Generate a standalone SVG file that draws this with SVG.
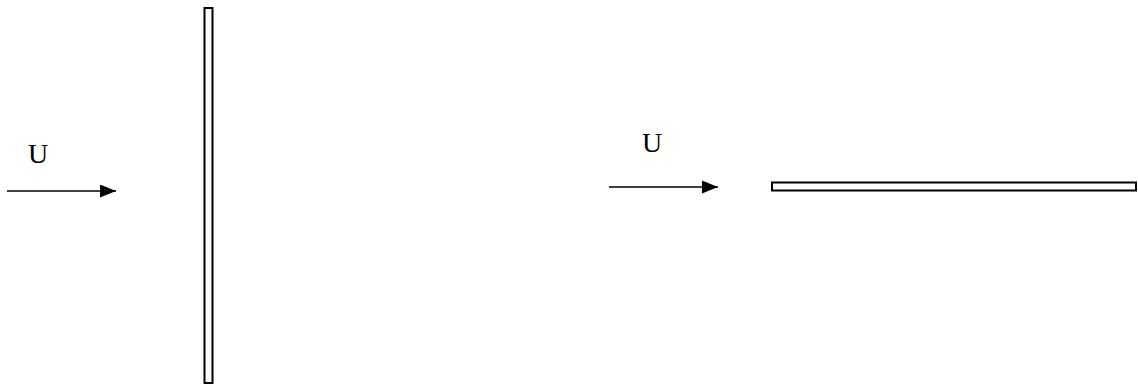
<svg xmlns="http://www.w3.org/2000/svg" width="1138" height="385" viewBox="0 0 1138 385">
<defs>
<style>
.lbl{font-family:"Liberation Serif","Times New Roman",serif;font-size:28px;fill:#000}
.plate{fill:#fff;stroke:#000;stroke-width:2}
.flow{stroke:#000;stroke-width:1.5;fill:none}
</style>
<marker id="ah" markerWidth="16" markerHeight="13" refX="16" refY="6.5" orient="auto" markerUnits="userSpaceOnUse">
<path d="M0,0 L16,6.5 L0,13 Z" fill="#000"/>
</marker>
</defs>
<rect width="1138" height="385" fill="#fff"/>
<g id="plate-vertical"><rect class="plate" x="204.5" y="8" width="8" height="375"/></g>
<g id="plate-horizontal"><rect class="plate" x="772" y="182.5" width="364" height="8"/></g>
<g id="label-left"><text class="lbl" x="28" y="163">U</text></g>
<g id="label-right"><text class="lbl" x="642" y="152">U</text></g>
<g id="connectors">
<line class="flow" x1="7" y1="191" x2="116" y2="191" marker-end="url(#ah)"/>
<line class="flow" x1="609" y1="187" x2="718" y2="187" marker-end="url(#ah)"/>
</g>
</svg>
